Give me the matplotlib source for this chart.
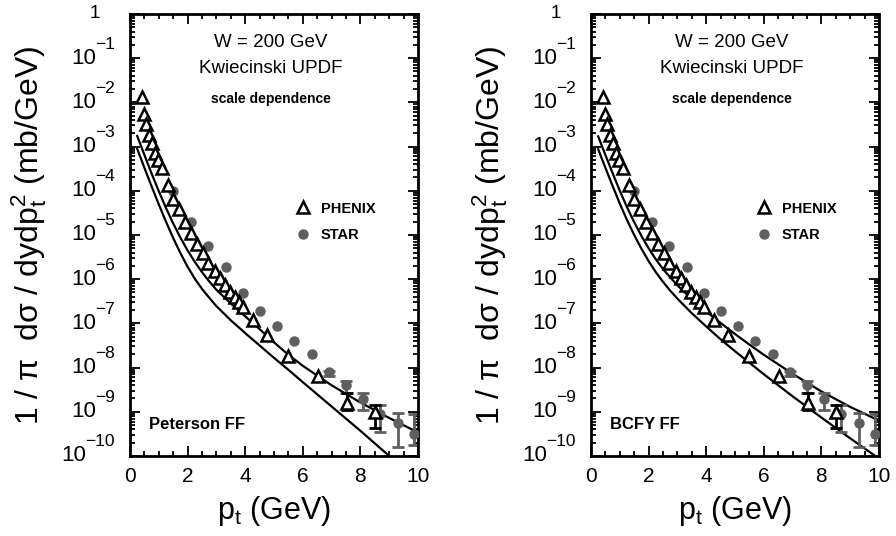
import numpy as np
import matplotlib
matplotlib.use('Agg')
import matplotlib.pyplot as plt
import matplotlib.transforms as mtransforms
from matplotlib.ticker import MultipleLocator, LogLocator, NullFormatter

plt.rcParams['font.family'] = ['Liberation Sans', 'DejaVu Sans']
plt.rcParams['mathtext.fontset'] = 'custom'
plt.rcParams['mathtext.rm'] = 'Liberation Sans'
plt.rcParams['mathtext.it'] = 'Liberation Sans'

# PHENIX data (open triangles)
phenix_pt = [0.41, 0.49, 0.56, 0.67, 0.76, 0.87, 0.98, 1.12, 1.33, 1.50, 1.71, 1.91,
             2.11, 2.31, 2.52, 2.72, 2.95, 3.13, 3.30, 3.47, 3.65, 3.80, 3.94,
             4.28, 4.75, 5.50, 6.54, 7.52, 8.51]
phenix_val = [1.35e-2, 5.6e-3, 3.2e-3, 1.8e-3, 1.2e-3, 7.3e-4, 5.0e-4, 3.2e-4, 1.35e-4,
              6.5e-5, 3.9e-5, 2.0e-5, 1.1e-5, 6.3e-6, 3.9e-6, 2.3e-6, 1.5e-6, 1.05e-6,
              7.4e-7, 5.2e-7, 4.0e-7, 3.1e-7, 2.4e-7, 1.2e-7, 5.5e-8, 1.85e-8, 6.5e-9,
              1.55e-9, 1.0e-9]
# error bars only on the last PHENIX points
phenix_err_pt = [7.52, 8.51]
phenix_err_val = [1.55e-9, 1.0e-9]
phenix_err_lo = [1.1e-9, 4.3e-10]
phenix_err_hi = [2.6e-9, 1.4e-9]

# STAR data (grey dots)
star_pt = [1.50, 2.12, 2.72, 3.32, 3.91, 4.51, 5.09, 5.71, 6.31, 6.91, 7.50, 8.10, 8.68, 9.29, 9.87]
star_val = [1.0e-4, 2.0e-5, 5.7e-6, 1.86e-6, 4.8e-7, 1.9e-7, 8.5e-8, 4.0e-8, 2.0e-8,
            7.8e-9, 4.1e-9, 1.9e-9, 9.0e-10, 5.5e-10, 3.2e-10]
star_err_pt = [6.91, 7.50, 8.10, 8.68, 9.29, 9.87]
star_err_val = [7.8e-9, 4.1e-9, 1.9e-9, 9.0e-10, 5.5e-10, 3.2e-10]
star_err_lo = [6.3e-9, 2.6e-9, 1.1e-9, 3.5e-10, 1.6e-10, 1.8e-10]
star_err_hi = [8.5e-9, 5.0e-9, 2.6e-9, 1.4e-9, 9.3e-10, 8.9e-10]

# theory curves, log10 of the cross section
curve_pt = [0.25, 0.5, 0.75, 1.0, 1.25, 1.5, 1.75, 2.0, 2.25, 2.5, 2.75, 3.0, 3.5,
            4.0, 4.5, 5.0, 5.5, 6.0, 7.0, 8.0, 9.0, 10.0]
peterson_upper = [-2.76, -3.19, -3.61, -4.01, -4.39, -4.74, -5.06, -5.35, -5.61, -5.84,
                  -6.05, -6.24, -6.55, -6.84, -7.13, -7.43, -7.71, -7.96, -8.40, -8.79,
                  -9.14, -9.47]
peterson_lower = [-3.05, -3.48, -3.90, -4.31, -4.70, -5.07, -5.41, -5.72, -5.99, -6.22,
                  -6.42, -6.61, -6.93, -7.22, -7.50, -7.78, -8.05, -8.33, -8.88, -9.43,
                  -10.0, -10.57]
bcfy_upper = [-2.77, -3.19, -3.60, -4.00, -4.37, -4.71, -5.02, -5.30, -5.55, -5.77,
              -5.96, -6.14, -6.45, -6.73, -6.99, -7.24, -7.48, -7.71, -8.14, -8.54,
              -8.89, -9.20]
bcfy_lower = [-3.06, -3.48, -3.89, -4.29, -4.66, -5.00, -5.31, -5.59, -5.84, -6.06,
              -6.26, -6.44, -6.77, -7.07, -7.36, -7.63, -7.89, -8.15, -8.65, -9.13,
              -9.60, -10.06]

panels = [('Peterson FF', peterson_upper, peterson_lower),
          ('BCFY FF', bcfy_upper, bcfy_lower)]

decades = list(range(1, 11))
star_color = '#5f5f5f'

fig = plt.figure(figsize=(8.96, 5.36), dpi=100)
lefts = [0.1451, 0.6596]

for left, (ff_name, up, lo) in zip(lefts, panels):
    ax = fig.add_axes([left, 0.1493, 0.3214, 0.8246])

    ax.plot(curve_pt, 10.0 ** np.array(up), color='black', lw=1.6)
    ax.plot(curve_pt, 10.0 ** np.array(lo), color='black', lw=1.6)

    ax.errorbar(star_err_pt, star_err_val,
                yerr=[np.array(star_err_val) - np.array(star_err_lo),
                      np.array(star_err_hi) - np.array(star_err_val)],
                fmt='none', ecolor=star_color, elinewidth=2.0, capsize=4, capthick=2.0)
    ax.errorbar(phenix_err_pt, phenix_err_val,
                yerr=[np.array(phenix_err_val) - np.array(phenix_err_lo),
                      np.array(phenix_err_hi) - np.array(phenix_err_val)],
                fmt='none', ecolor='black', elinewidth=2.0, capsize=4, capthick=2.0)
    ax.plot(star_pt, star_val, 'o', color=star_color, ms=6.5, mec=star_color,
            label='STAR', zorder=4)
    ax.plot(phenix_pt, phenix_val, '^', mfc='white', mec='black', mew=1.8, ms=8,
            label='PHENIX', zorder=5)

    ax.set_yscale('log')
    ax.set_xlim(0, 10)
    ax.set_ylim(1e-10, 1)

    ax.xaxis.set_major_locator(MultipleLocator(2))
    ax.xaxis.set_minor_locator(MultipleLocator(0.5))
    ax.yaxis.set_major_locator(LogLocator(base=10, numticks=20))
    ax.yaxis.set_minor_locator(LogLocator(base=10, subs=np.arange(2, 10), numticks=20))
    ax.yaxis.set_major_formatter(NullFormatter())
    ax.yaxis.set_minor_formatter(NullFormatter())

    ax.tick_params(which='both', direction='in', top=True, right=True, width=1.3)
    ax.tick_params(which='major', length=7)
    ax.tick_params(which='minor', length=3.5)
    ax.tick_params(axis='x', which='major', pad=8, labelsize=15)
    for sp in ax.spines.values():
        sp.set_linewidth(2.0)

    # y tick labels drawn by hand: big "10" with a large raised exponent
    ytrans = mtransforms.blended_transform_factory(ax.transAxes, ax.transData)
    exp_trans = mtransforms.offset_copy(ytrans, fig=fig, x=0, y=14, units='dots')
    for e in decades:
        t_exp = ax.text(-0.052, 10.0 ** (-e), '\u2212%d' % e, transform=exp_trans,
                        ha='right', va='center', fontsize=12.5)
        ax.annotate('10', xy=(0, 0.5), xycoords=t_exp, xytext=(1, -14),
                    textcoords='offset pixels', ha='right', va='center', fontsize=16)
    ax.text(-0.105, 1.0, '1', transform=ytrans, ha='right', va='center', fontsize=13.5)

    ax.set_xlabel('p$_{\\mathregular{t}}$ (GeV)', fontsize=22, labelpad=6)
    ax.set_ylabel('1 / π  dσ / dydp$_{\\mathregular{t}}^{\\mathregular{2}}$ (mb/GeV)',
                  fontsize=23, labelpad=55)

    ax.text(0.49, 0.935, 'W = 200 GeV', transform=ax.transAxes, ha='center',
            va='center', fontsize=13.5)
    ax.text(0.49, 0.876, 'Kwiecinski UPDF', transform=ax.transAxes, ha='center',
            va='center', fontsize=13.5)
    ax.text(0.49, 0.808, 'scale dependence', transform=ax.transAxes, ha='center',
            va='center', fontsize=10, fontweight='bold')
    ax.text(0.066, 0.072, ff_name, transform=ax.transAxes, ha='left',
            va='center', fontsize=12, fontweight='bold')

    handles, labels = ax.get_legend_handles_labels()
    ax.legend(handles[::-1], labels[::-1], loc='center left',
              bbox_to_anchor=(0.53, 0.53), frameon=False, handlelength=1.0,
              handletextpad=0.7, labelspacing=0.85,
              prop={'size': 10.5, 'weight': 'bold'})

fig.savefig('out.png', dpi=100)
